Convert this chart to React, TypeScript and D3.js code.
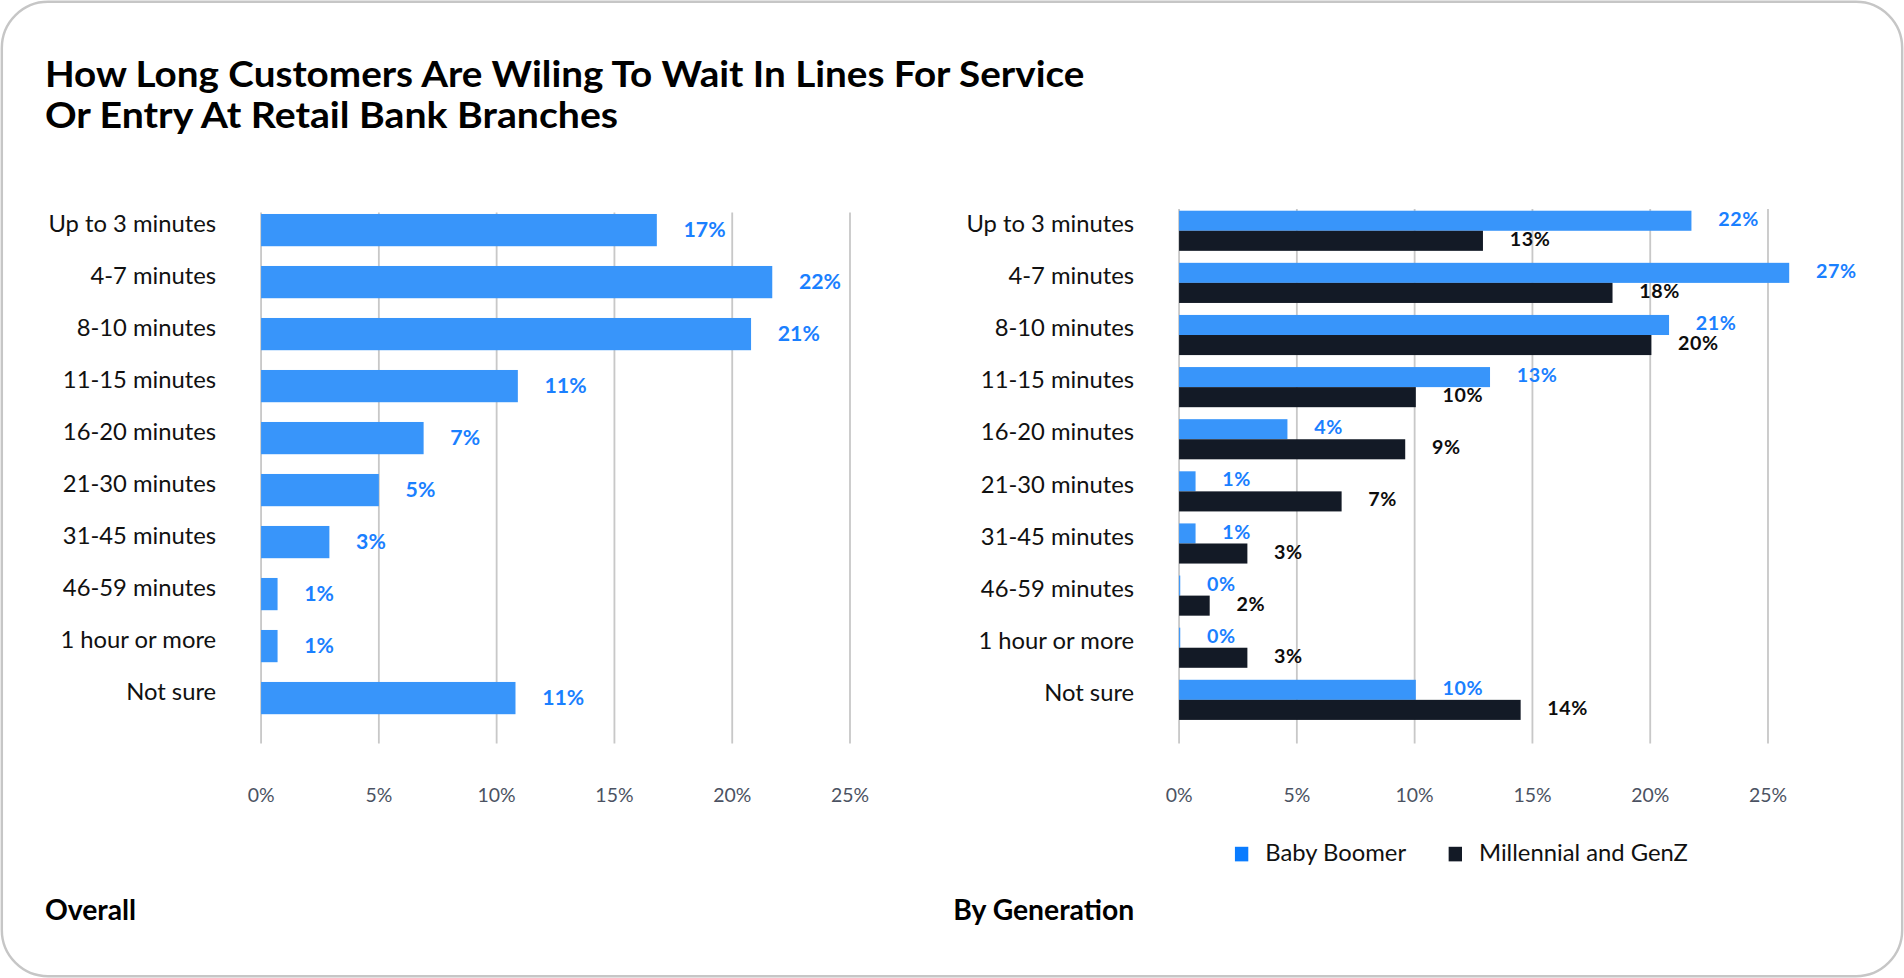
import React from "react";
import * as d3 from "d3";

// chart data
const categories = [
  "Up to 3 minutes",
  "4-7 minutes",
  "8-10 minutes",
  "11-15 minutes",
  "16-20 minutes",
  "21-30 minutes",
  "31-45 minutes",
  "46-59 minutes",
  "1 hour or more",
  "Not sure",
];
const overall = [16.8, 21.7, 20.8, 10.9, 6.9, 5.0, 2.9, 0.7, 0.7, 10.8];
const overallLabels = ["17%", "22%", "21%", "11%", "7%", "5%", "3%", "1%", "1%", "11%"];
const boomer = [21.75, 25.9, 20.8, 13.2, 4.6, 0.7, 0.7, 0.05, 0.05, 10.05];
const boomerLabels = ["22%", "27%", "21%", "13%", "4%", "1%", "1%", "0%", "0%", "10%"];
const genz = [12.9, 18.4, 20.05, 10.05, 9.6, 6.9, 2.9, 1.3, 2.9, 14.5];
const genzLabels = ["13%", "18%", "20%", "10%", "9%", "7%", "3%", "2%", "3%", "14%"];
const ticks = [0, 5, 10, 15, 20, 25];
const seriesNames = ["Baby Boomer", "Millennial and GenZ"];

const W = 1568;
const H = 805;
const FONT = "Lato, 'Open Sans', sans-serif";
const BLUE = "#3895fa";
const BLUE_TEXT = "#1a80ff";
const DARK = "#131a26";
const GRID = "#c8c8c8";

function Grid({ x, top, bottom }: { x: d3.ScaleLinear<number, number>; top: number; bottom: number }) {
  return (
    <g>
      {ticks.map((t) => (
        <g key={t}>
          <line x1={x(t)} x2={x(t)} y1={top} y2={bottom} stroke={GRID} strokeWidth={1.5} />
          <text
            x={x(t)}
            y={656}
            textAnchor="middle"
            dominantBaseline="middle"
            fontSize={16}
            fill="#4b5262"
            fontFamily={FONT}
          >
            {t}%
          </text>
        </g>
      ))}
    </g>
  );
}

function CatLabels({ y, right, offset }: { y: d3.ScaleBand<string>; right: number; offset: number }) {
  return (
    <g>
      {categories.map((c) => (
        <text
          key={c}
          x={right}
          y={(y(c) ?? 0) + y.bandwidth() / 2 + offset}
          textAnchor="end"
          dominantBaseline="middle"
          fontSize={19.6}
          fill="#111"
          fontFamily={FONT}
        >
          {c}
        </text>
      ))}
    </g>
  );
}

export default function App() {
  // left chart: overall
  const xL = d3.scaleLinear().domain([0, 25]).range([215, 700]);
  const yL = d3.scaleBand<string>().domain(categories).range([168, 596]).paddingInner(0.38).paddingOuter(0.19);

  // right chart: by generation
  const xR = d3.scaleLinear().domain([0, 25]).range([971, 1456]);
  const yR = d3.scaleBand<string>().domain(categories).range([168.5, 597.5]).paddingInner(0.23).paddingOuter(0.115);
  const ySub = d3.scaleBand<string>().domain(seriesNames).range([0, yR.bandwidth()]);
  const colors = d3.scaleOrdinal<string, string>().domain(seriesNames).range([BLUE, DARK]);
  const textColors = d3.scaleOrdinal<string, string>().domain(seriesNames).range([BLUE_TEXT, "#0d0d0d"]);
  const rightSeries = [
    { name: seriesNames[0], values: boomer, labels: boomerLabels },
    { name: seriesNames[1], values: genz, labels: genzLabels },
  ];

  return (
    <div style={{ position: "absolute", left: 0, top: 0, width: 1904, height: 978, background: "#fff" }}>
      <svg width={1904} height={978} viewBox={`0 0 ${W} ${H}`} preserveAspectRatio="none" style={{ display: "block" }}>
        <rect x={1.5} y={1.5} width={W - 3} height={H - 3} rx={38} ry={38} fill="#fff" stroke="#c6c6c6" strokeWidth={2} />

        <text x={37} y={72} fontSize={30} fontWeight={700} fill="#000" fontFamily={FONT} textLength={856} lengthAdjust="spacingAndGlyphs">
          How Long Customers Are Wiling To Wait In Lines For Service
        </text>
        <text x={37} y={105} fontSize={30} fontWeight={700} fill="#000" fontFamily={FONT} textLength={472} lengthAdjust="spacingAndGlyphs">
          Or Entry At Retail Bank Branches
        </text>

        {/* overall */}
        <Grid x={xL} top={175} bottom={612} />
        <CatLabels y={yL} right={178} offset={-3.5} />
        {categories.map((c, i) => (
          <g key={c}>
            <rect x={xL(0)} y={yL(c)} width={xL(overall[i]) - xL(0)} height={yL.bandwidth()} fill={BLUE} />
            <text
              x={xL(overall[i]) + 22}
              y={(yL(c) ?? 0) + yL.bandwidth() / 2 + 1}
              dominantBaseline="middle"
              fontSize={17.5}
              fontWeight={700}
              fill={BLUE_TEXT}
              fontFamily={FONT}
            >
              {overallLabels[i]}
            </text>
          </g>
        ))}

        {/* by generation */}
        <Grid x={xR} top={172} bottom={612} />
        <CatLabels y={yR} right={934} offset={-4} />
        {categories.map((c, i) => (
          <g key={c} transform={`translate(0,${yR(c)})`}>
            {rightSeries.map((s) => (
              <g key={s.name}>
                <rect
                  x={xR(0)}
                  y={ySub(s.name)}
                  width={xR(s.values[i]) - xR(0)}
                  height={ySub.bandwidth()}
                  fill={colors(s.name)}
                />
                <text
                  x={xR(s.values[i]) + 22}
                  y={(ySub(s.name) ?? 0) + ySub.bandwidth() / 2}
                  dominantBaseline="middle"
                  fontSize={16.2}
                  letterSpacing={0.5}
                  fontWeight={700}
                  fill={textColors(s.name)}
                  fontFamily={FONT}
                >
                  {s.labels[i]}
                </text>
              </g>
            ))}
          </g>
        ))}

        {/* legend */}
        <g transform="translate(1017,697)">
          {seriesNames.map((n, i) => (
            <g key={n} transform={`translate(${i * 176},0)`}>
              <rect width={11} height={12} fill={i === 0 ? "#0a7cff" : DARK} />
              <text x={25} y={6.5} dominantBaseline="middle" fontSize={19.6} fill="#111" fontFamily={FONT}>
                {n}
              </text>
            </g>
          ))}
        </g>

        <text x={37} y={757} fontSize={23.3} fontWeight={700} fill="#000" fontFamily={FONT}>
          Overall
        </text>
        <text x={785} y={757} fontSize={23.3} fontWeight={700} fill="#000" fontFamily={FONT}>
          By Generation
        </text>
      </svg>
    </div>
  );
}
